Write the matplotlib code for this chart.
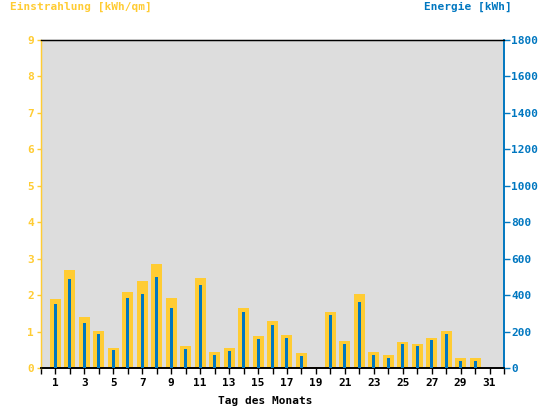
import matplotlib
matplotlib.use("Agg")
import matplotlib.pyplot as plt

# Tageswerte des Monats
days = list(range(1, 32))
einstrahlung = [1.89, 2.69, 1.40, 1.02, 0.55, 2.09, 2.39, 2.85, 1.92, 0.60,
                2.47, 0.44, 0.55, 1.65, 0.88, 1.29, 0.91, 0.41, 0.03, 1.54,
                0.74, 2.03, 0.44, 0.36, 0.71, 0.66, 0.82, 1.02, 0.27, 0.27, 0.0]
energie = [351, 488, 247, 187, 99, 384, 406, 499, 329, 104,
           456, 71, 93, 307, 159, 236, 165, 66, 0, 291,
           132, 362, 71, 55, 132, 121, 154, 187, 38, 38, 0]

YELLOW = '#FFCC33'
BLUE = '#0077C0'
font = 'DejaVu Sans Mono'

fig = plt.figure(figsize=(5.44, 4.08), dpi=100)
ax = fig.add_axes([41 / 544, 1 - 368 / 408, 463 / 544, 328 / 408])
ax.set_facecolor('#DDDDDD')
ax2 = ax.twinx()

ax.bar(days, einstrahlung, width=0.76, color=YELLOW, linewidth=0,
       antialiased=False, zorder=2)
ax2.bar(days, energie, width=0.21, color=BLUE, linewidth=0,
        antialiased=False, zorder=3)

ax.set_xlim(0, 32)
ax.set_ylim(0, 9)
ax2.set_ylim(0, 1800)

ax.set_xticks(range(0, 33))
ax.set_xticklabels([str(d) if d % 2 == 1 and d <= 31 else '' for d in range(0, 33)],
                   fontfamily=font, fontweight='bold', fontsize=8)
ax.set_yticks(range(0, 10))
ax.set_yticklabels([str(v) for v in range(0, 10)], fontfamily=font,
                   fontweight='bold', fontsize=8, color=YELLOW)
ax2.set_yticks(range(0, 1801, 200))
ax2.set_yticklabels([str(v) for v in range(0, 1801, 200)], fontfamily=font,
                    fontweight='bold', fontsize=8, color=BLUE)

ax.tick_params(axis='x', length=4, width=1, color='black', pad=3)
ax.tick_params(axis='y', length=3, width=1, color=YELLOW, pad=2)
ax2.tick_params(axis='y', length=4, width=1, color=BLUE, pad=1)

for a in (ax, ax2):
    a.spines['top'].set_color('black')
    a.spines['bottom'].set_color('black')
    a.spines['top'].set_linewidth(0.9)
    a.spines['bottom'].set_linewidth(1.2)
    a.spines['left'].set_color(YELLOW)
    a.spines['right'].set_color(BLUE)
    a.spines['left'].set_linewidth(0.9)
    a.spines['right'].set_linewidth(1.2)

fig.text(10 / 544, 1 - 7 / 408, 'Einstrahlung [kWh/qm]', color=YELLOW,
         fontfamily=font, fontweight='bold', fontsize=8, ha='left', va='center')
fig.text(512 / 544, 1 - 7 / 408, 'Energie [kWh]', color=BLUE,
         fontfamily=font, fontweight='bold', fontsize=8, ha='right', va='center')
fig.text(265 / 544, 1 - 401 / 408, 'Tag des Monats', color='black',
         fontfamily=font, fontweight='bold', fontsize=8, ha='center', va='center')

fig.savefig('out.png', dpi=100)
